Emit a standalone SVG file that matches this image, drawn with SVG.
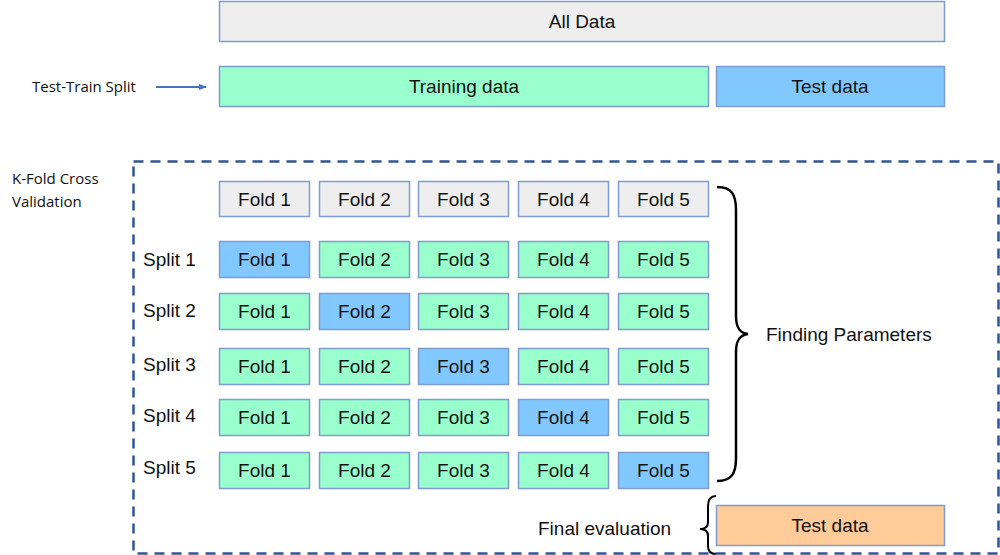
<svg xmlns="http://www.w3.org/2000/svg" width="1000" height="555" viewBox="0 0 1000 555">
<style>
.b{stroke:#7e9cd0;stroke-width:1.5}
.g{fill:#eeeeee}.gr{fill:#99ffcc}.bl{fill:#80c8ff}.or{fill:#ffcc99}
text{font-family:"Liberation Sans",Arial,sans-serif;font-size:19px;fill:#111}
.c{text-anchor:middle}
.s{font-family:"Open Sans","Liberation Sans",sans-serif;font-size:15px}
</style>
<defs>
<marker id="ah" markerWidth="8" markerHeight="8" refX="7" refY="4" orient="auto" markerUnits="userSpaceOnUse"><path d="M0,1 L8,4 L0,7z" fill="#4472c4"/></marker>
<clipPath id="cp"><rect x="0" y="0" width="945" height="555"/></clipPath>
</defs>
<g id="all"><rect class="b g" x="219.5" y="1.5" width="725" height="40"/><text class="c" x="582" y="28">All Data</text></g>
<g id="train"><rect class="b gr" x="219.5" y="66.5" width="489" height="40"/><text class="c" x="464" y="93">Training data</text></g>
<g id="test"><rect class="b bl" x="716.5" y="66.5" width="228" height="40"/><text class="c" x="830" y="93">Test data</text></g>
<g id="connectors">
<line x1="156" y1="87" x2="206" y2="87" stroke="#4472c4" stroke-width="2" marker-end="url(#ah)"/>
<path d="M717,187 C732,187 736,195 736,210 L736,316 C736,328 740,333 748,334 C740,335 736,340 736,352 L736,458 C736,473 732,481 717,481" fill="none" stroke="#000" stroke-width="2.5"/>
<path d="M716,496 C710,496 708,500 708,506 L708,522 C708,527 705,529 700,529 C705,529 708,531 708,536 L708,546 C708,551 710,554 716,554" fill="none" stroke="#000" stroke-width="2"/>
</g>
<g id="label-split"><text class="s" x="32" y="92">Test-Train Split</text></g>
<g id="label-kfold"><text class="s" x="12" y="184">K-Fold Cross</text><text class="s" x="12" y="207">Validation</text></g>
<g id="kfold-box"><rect x="133.5" y="161.5" width="865" height="392" fill="none" stroke="#2f5597" stroke-width="2.5" stroke-dasharray="10,7"/></g>
<g id="header">
<rect class="b g" x="219.5" y="181.5" width="90" height="35"/><text class="c" x="264.5" y="206">Fold 1</text>
<rect class="b g" x="319.5" y="181.5" width="90" height="35"/><text class="c" x="364.5" y="206">Fold 2</text>
<rect class="b g" x="418.5" y="181.5" width="90" height="35"/><text class="c" x="463.5" y="206">Fold 3</text>
<rect class="b g" x="518.5" y="181.5" width="90" height="35"/><text class="c" x="563.5" y="206">Fold 4</text>
<rect class="b g" x="618.5" y="181.5" width="90" height="35"/><text class="c" x="663.5" y="206">Fold 5</text>
</g>
<g id="split1"><text x="143" y="266">Split 1</text>
<rect class="b bl" x="219.5" y="241.5" width="90" height="36"/><text class="c" x="264.5" y="266">Fold 1</text>
<rect class="b gr" x="319.5" y="241.5" width="90" height="36"/><text class="c" x="364.5" y="266">Fold 2</text>
<rect class="b gr" x="418.5" y="241.5" width="90" height="36"/><text class="c" x="463.5" y="266">Fold 3</text>
<rect class="b gr" x="518.5" y="241.5" width="90" height="36"/><text class="c" x="563.5" y="266">Fold 4</text>
<rect class="b gr" x="618.5" y="241.5" width="90" height="36"/><text class="c" x="663.5" y="266">Fold 5</text>
</g>
<g id="split2"><text x="143" y="317">Split 2</text>
<rect class="b gr" x="219.5" y="293.5" width="90" height="36"/><text class="c" x="264.5" y="318">Fold 1</text>
<rect class="b bl" x="319.5" y="293.5" width="90" height="36"/><text class="c" x="364.5" y="318">Fold 2</text>
<rect class="b gr" x="418.5" y="293.5" width="90" height="36"/><text class="c" x="463.5" y="318">Fold 3</text>
<rect class="b gr" x="518.5" y="293.5" width="90" height="36"/><text class="c" x="563.5" y="318">Fold 4</text>
<rect class="b gr" x="618.5" y="293.5" width="90" height="36"/><text class="c" x="663.5" y="318">Fold 5</text>
</g>
<g id="split3"><text x="143" y="371">Split 3</text>
<rect class="b gr" x="219.5" y="348.5" width="90" height="36"/><text class="c" x="264.5" y="373">Fold 1</text>
<rect class="b gr" x="319.5" y="348.5" width="90" height="36"/><text class="c" x="364.5" y="373">Fold 2</text>
<rect class="b bl" x="418.5" y="348.5" width="90" height="36"/><text class="c" x="463.5" y="373">Fold 3</text>
<rect class="b gr" x="518.5" y="348.5" width="90" height="36"/><text class="c" x="563.5" y="373">Fold 4</text>
<rect class="b gr" x="618.5" y="348.5" width="90" height="36"/><text class="c" x="663.5" y="373">Fold 5</text>
</g>
<g id="split4"><text x="143" y="422">Split 4</text>
<rect class="b gr" x="219.5" y="399.5" width="90" height="36"/><text class="c" x="264.5" y="424">Fold 1</text>
<rect class="b gr" x="319.5" y="399.5" width="90" height="36"/><text class="c" x="364.5" y="424">Fold 2</text>
<rect class="b gr" x="418.5" y="399.5" width="90" height="36"/><text class="c" x="463.5" y="424">Fold 3</text>
<rect class="b bl" x="518.5" y="399.5" width="90" height="36"/><text class="c" x="563.5" y="424">Fold 4</text>
<rect class="b gr" x="618.5" y="399.5" width="90" height="36"/><text class="c" x="663.5" y="424">Fold 5</text>
</g>
<g id="split5"><text x="143" y="474">Split 5</text>
<rect class="b gr" x="219.5" y="452.5" width="90" height="36"/><text class="c" x="264.5" y="477">Fold 1</text>
<rect class="b gr" x="319.5" y="452.5" width="90" height="36"/><text class="c" x="364.5" y="477">Fold 2</text>
<rect class="b gr" x="418.5" y="452.5" width="90" height="36"/><text class="c" x="463.5" y="477">Fold 3</text>
<rect class="b gr" x="518.5" y="452.5" width="90" height="36"/><text class="c" x="563.5" y="477">Fold 4</text>
<rect class="b bl" x="618.5" y="452.5" width="90" height="36"/><text class="c" x="663.5" y="477">Fold 5</text>
</g>
<g id="finding"><text x="766" y="341" clip-path="url(#cp)">Finding Parameters</text></g>
<g id="final"><text x="538" y="535">Final evaluation</text></g>
<g id="test-final"><rect class="b or" x="716.5" y="505.5" width="228" height="40"/><text class="c" x="830" y="532">Test data</text></g>
</svg>
